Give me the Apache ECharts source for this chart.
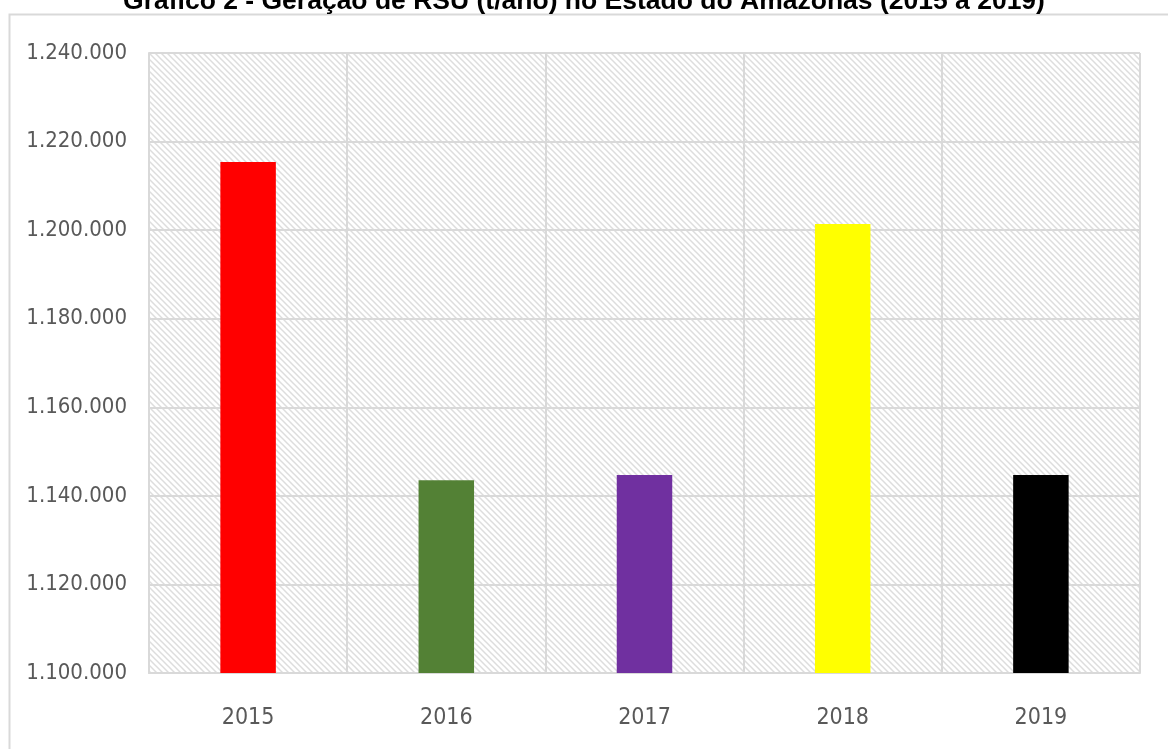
<!DOCTYPE html>
<html><head><meta charset="utf-8">
<script src="https://cdn.jsdelivr.net/npm/echarts@6/dist/echarts.min.js"></script>
<style>html,body{margin:0;padding:0;background:#fff}#c{width:1168px;height:749px}</style>
</head><body><div id="c"></div>
<script>
const titleText = 'Gráfico 2 - Geração de RSU (t/ano) no Estado do Amazonas (2015 a 2019)';
const categories = ['2015', '2016', '2017', '2018', '2019'];
const values = [1215400, 1143500, 1144700, 1201400, 1144700];
const barColors = ['#ff0000', '#538135', '#7030a0', '#ffff00', '#000000'];
const yMin = 1100000, yMax = 1240000, yStep = 20000;

const pc = document.createElement('canvas');
pc.width = 6; pc.height = 6;
const px = pc.getContext('2d');
px.fillStyle = '#ffffff'; px.fillRect(0,0,6,6);
px.strokeStyle = '#dddddd'; px.lineWidth = 1.5;
px.beginPath();
px.moveTo(-1,-1); px.lineTo(7,7);
px.moveTo(-7,-1); px.lineTo(1,7);
px.moveTo(5,-1); px.lineTo(13,7);
px.stroke();

function fmt(v){ return String(v).replace(/\B(?=(\d{3})+(?!\d))/g, '.'); }

const labelFont = 'Liberation Sans Narrow, DejaVu Sans Condensed, Lato';
const chart = echarts.init(document.getElementById('c'), null, {renderer:'canvas'});
chart.setOption({
  animation: false,
  backgroundColor: '#ffffff',
  title: {
    text: titleText, left: 'center', top: -17,
    textStyle: {fontFamily: 'Liberation Sans, Arial', fontWeight: 'bold', fontSize: 26.5, color: '#000'}
  },
  graphic: [{
    type: 'rect', left: 7, top: 12, shape: {width: 1200, height: 760},
    style: {fill: 'none', stroke: '#d9d9d9', lineWidth: 2}, silent: true, z: -1
  }],
  grid: {
    left: 149, right: 28, top: 53, bottom: 76, show: true, borderWidth: 0,
    backgroundColor: {image: pc, repeat: 'repeat'}
  },
  xAxis: {
    type: 'category', data: categories, boundaryGap: true,
    axisLine: {lineStyle: {color: '#d9d9d9', width: 2}},
    axisTick: {show: false},
    splitLine: {show: true, interval: 0, lineStyle: {color: '#d9d9d9', width: 2}},
    axisLabel: {margin: 34, color: '#595959', fontFamily: labelFont, fontSize: 23}
  },
  yAxis: {
    type: 'value', min: yMin, max: yMax, interval: yStep,
    axisLine: {show: true, lineStyle: {color: '#d9d9d9', width: 2}},
    axisTick: {show: false},
    splitLine: {lineStyle: {color: '#d9d9d9', width: 2}},
    axisLabel: {margin: 22, color: '#595959', fontFamily: labelFont, fontSize: 22, formatter: fmt}
  },
  series: [{
    type: 'bar', barWidth: '28%',
    data: values.map((v,i) => ({value: v, itemStyle: {color: barColors[i]}}))
  }]
});
</script></body></html>
